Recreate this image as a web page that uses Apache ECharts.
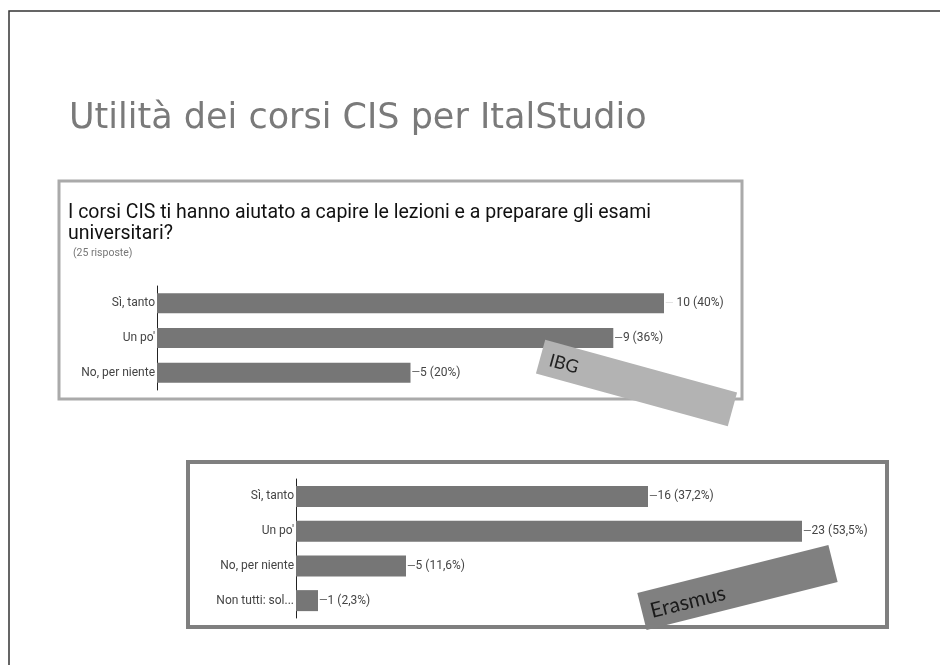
<!DOCTYPE html>
<html>
<head>
<meta charset="utf-8">
<style>
  html, body { margin: 0; padding: 0; background: #fff; }
  #chart { width: 940px; height: 665px; }
</style>
<script src="https://cdn.jsdelivr.net/npm/echarts@6/dist/echarts.min.js"></script>
</head>
<body>
<div id="chart"></div>
<script>
// Survey answers
const answers = ['Sì, tanto', "Un po'", 'No, per niente'];
const answersErasmus = ['Sì, tanto', "Un po'", 'No, per niente', 'Non tutti: sol...'];

// IBG group (25 responses)
const ibgCounts = [10, 9, 5];
const ibgPercents = ['40%', '36%', '20%'];

// Erasmus group
const erasmusCounts = [16, 23, 5, 1];
const erasmusPercents = ['37,2%', '53,5%', '11,6%', '2,3%'];

const BAR_COLOR = '#767676';
const LABEL_FONT = 'Roboto, "Liberation Sans", Arial, sans-serif';

function valueLabel(percents, quietFirst) {
  return {
    show: true,
    position: 'right',
    distance: 1,
    formatter: p => {
      const lead = (quietFirst && p.dataIndex === 0) ? '{q|—}' : '{l|—}';
      return lead + '{v|' + p.value + ' (' + percents[p.dataIndex] + ')}';
    },
    rich: {
      l: { color: '#555', fontSize: 11, fontFamily: LABEL_FONT },
      q: { color: '#ddd', fontSize: 11, fontFamily: LABEL_FONT, padding: [0, 3, 0, 0] },
      v: { color: '#444', fontSize: 12, fontFamily: LABEL_FONT }
    }
  };
}

function catAxis(gridIndex, cats) {
  return {
    type: 'category',
    gridIndex,
    data: cats,
    inverse: true,
    axisLine: { show: true, lineStyle: { color: '#222', width: 1 } },
    axisTick: { show: false },
    axisLabel: { color: '#444', fontSize: 12, fontFamily: LABEL_FONT, margin: 2 },
    splitLine: { show: false }
  };
}

function valAxis(gridIndex, max) {
  return {
    type: 'value',
    gridIndex,
    min: 0,
    max,
    show: false,
    splitLine: { show: false }
  };
}

const chart = echarts.init(document.getElementById('chart'), null, { renderer: 'canvas' });

chart.setOption({
  animation: false,
  backgroundColor: '#ffffff',
  title: [
    {
      text: 'Utilità dei corsi CIS per ItalStudio',
      left: 64, top: 96,
      textStyle: { fontFamily: '"DejaVu Sans", sans-serif', fontWeight: 'normal', fontSize: 35, color: '#7a7a7a' }
    },
    {
      text: 'I corsi CIS ti hanno aiutato a capire le lezioni e a preparare gli esami\nuniversitari?',
      left: 63, top: 198,
      textStyle: { fontFamily: LABEL_FONT, fontWeight: 'normal', fontSize: 19.5, lineHeight: 21, color: '#111' }
    },
    {
      text: '(25 risposte)',
      left: 68, top: 243,
      textStyle: { fontFamily: LABEL_FONT, fontWeight: 'normal', fontSize: 10.5, color: '#777' }
    }
  ],
  grid: [
    { left: 157, top: 286, width: 507, height: 104 },
    { left: 296, top: 479, width: 506, height: 139 }
  ],
  xAxis: [valAxis(0, 10), valAxis(1, 23)],
  yAxis: [catAxis(0, answers), catAxis(1, answersErasmus)],
  series: [
    {
      type: 'bar',
      xAxisIndex: 0, yAxisIndex: 0,
      data: ibgCounts,
      barWidth: 20,
      itemStyle: { color: BAR_COLOR },
      label: valueLabel(ibgPercents, true),
      z: 2
    },
    {
      type: 'bar',
      xAxisIndex: 1, yAxisIndex: 1,
      data: erasmusCounts,
      barWidth: 21,
      itemStyle: { color: BAR_COLOR },
      label: valueLabel(erasmusPercents, false),
      z: 2
    }
  ],
  graphic: [
    // slide frame
    {
      type: 'polyline', z: 1,
      shape: { points: [[9, 665], [9, 11], [940, 11]] },
      style: { stroke: '#333', lineWidth: 1.5, fill: null }
    },
    // IBG panel border
    {
      type: 'rect', z: 1,
      shape: { x: 59, y: 181, width: 683, height: 218 },
      style: { stroke: '#aaaaaa', lineWidth: 3, fill: null }
    },
    // Erasmus panel border
    {
      type: 'rect', z: 1,
      shape: { x: 188, y: 462, width: 699, height: 165 },
      style: { stroke: '#7f7f7f', lineWidth: 4, fill: null }
    },
    // IBG tag
    {
      type: 'group', z: 10,
      x: 636.5, y: 383,
      rotation: -15.4 * Math.PI / 180,
      children: [
        { type: 'rect', z: 10, shape: { x: -99.5, y: -17.5, width: 199, height: 35 }, style: { fill: '#b3b3b3' } },
        { type: 'text', z: 11, style: { x: -90, y: 1, text: 'IBG', fill: '#222', font: '18px Lato, "Open Sans", sans-serif', textAlign: 'left', textVerticalAlign: 'middle' } }
      ]
    },
    // Erasmus tag
    {
      type: 'group', z: 10,
      x: 737.5, y: 587.5,
      rotation: 14.1 * Math.PI / 180,
      children: [
        { type: 'rect', z: 10, shape: { x: -98.5, y: -19, width: 197, height: 38 }, style: { fill: '#808080' } },
        { type: 'text', z: 11, style: { x: -90, y: 2, text: 'Erasmus', fill: '#1a1a1a', font: '21px Lato, "Open Sans", sans-serif', textAlign: 'left', textVerticalAlign: 'middle' } }
      ]
    }
  ]
});
</script>
</body>
</html>
